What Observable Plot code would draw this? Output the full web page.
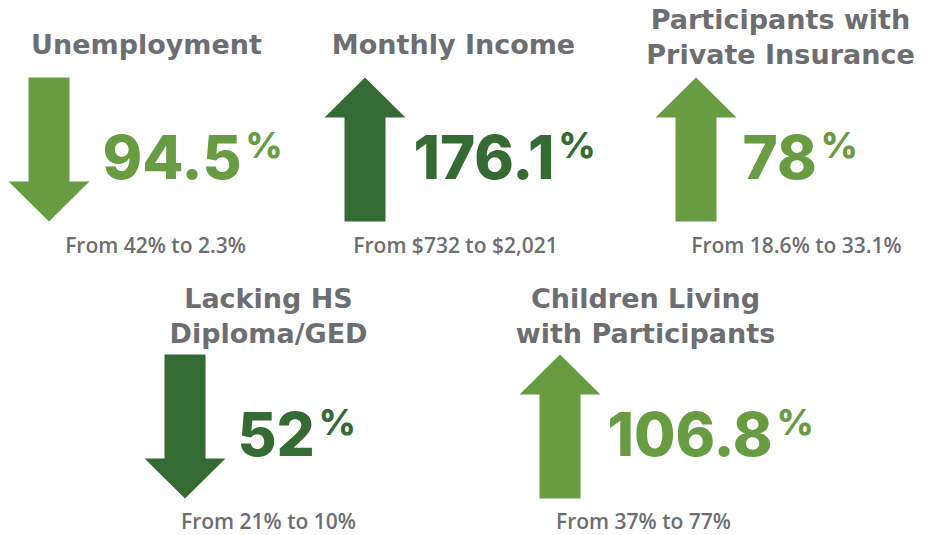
<!DOCTYPE html>
<html>
<head>
<meta charset="utf-8">
<script src="https://cdn.jsdelivr.net/npm/d3@7"></script>
<script src="https://cdn.jsdelivr.net/npm/@observablehq/plot@0.6"></script>
<style>
  html, body { margin: 0; padding: 0; background: #fff; }
</style>
</head>
<body>
<div id="chart"></div>
<script>
// ---- data ----
const titles = ["Unemployment", "Monthly Income", "Participants with\nPrivate Insurance", "Lacking HS\nDiploma/GED", "Children Living\nwith Participants"];
const changes = [94.5, 176.1, 78, 52, 106.8];
const fromValues = ["42%", "$732", "18.6%", "21%", "37%"];
const toValues = ["2.3%", "$2,021", "33.1%", "10%", "77%"];
const directions = ["down", "up", "up", "down", "up"];
const shades = ["light", "dark", "light", "dark", "light"];

// ---- layout (panel anchors) ----
const W = 934, H = 535;
const arrowLeft = [8, 324, 655, 144, 519];
const arrowTop = [77, 77, 77, 354, 354];
const numberLeft = [102, 413, 742, 237, 607];
const titleX = [146, 453, 780, 268, 645];
const titleY = [53, 53, 63, 342, 342];   // baseline of the last title line
const subX = [155, 455, 796, 268, 643];
const subY = [252, 252, 252, 528, 528];

const palette = {light: "#699c42", dark: "#356a34"};
const gray = "#6d6e71";
const font = "DejaVu Sans";
const numFont = "Inter";
const subFont = "Open Sans";

const AW = 81, AS = 41, AH = 144, AHead = 40;

function arrowPoints(i) {
  const L = arrowLeft[i], T = arrowTop[i];
  const sl = L + (AW - AS) / 2, sr = sl + AS;
  const pts = directions[i] === "down"
    ? [[sl, T], [sr, T], [sr, T + AH - AHead], [L + AW, T + AH - AHead], [L + AW / 2, T + AH], [L, T + AH - AHead], [sl, T + AH - AHead]]
    : [[L + AW / 2, T], [L + AW, T + AHead], [sr, T + AHead], [sr, T + AH], [sl, T + AH], [sl, T + AHead], [L, T + AHead]];
  return pts.map(([x, y]) => ({x, y, i}));
}

const numSize = 60, pctSize = 36;
const ctx = document.createElement("canvas").getContext("2d");
ctx.font = `800 ${numSize}px "${numFont}"`;

const panels = titles.map((t, i) => {
  const label = String(changes[i]);
  const w = ctx.measureText(label).width;
  return {
    i, label,
    title: t,
    sub: `From ${fromValues[i]} to ${toValues[i]}`,
    color: palette[shades[i]],
    nx: numberLeft[i], ny: arrowTop[i] + 101,
    px: numberLeft[i] + w + 4, py: arrowTop[i] + 80,
    tx: titleX[i], ty: titleY[i],
    sx: subX[i], sy: subY[i]
  };
});

const marks = [];
panels.forEach(p => {
  marks.push(Plot.line(arrowPoints(p.i), {x: "x", y: "y", fill: p.color, stroke: "none", curve: "linear-closed"}));
});
marks.push(
  Plot.text(panels, {x: "tx", y: "ty", text: "title", fill: gray, fontFamily: font, fontWeight: "bold", fontSize: 27, textAnchor: "middle", lineAnchor: "bottom", lineHeight: 1.27}),
  Plot.text(panels, {x: "nx", y: "ny", text: "label", fill: "color", fontFamily: numFont, fontWeight: 800, fontSize: numSize, textAnchor: "start", lineAnchor: "bottom"}),
  Plot.text(panels, {x: "px", y: "py", text: () => "%", fill: "color", fontFamily: numFont, fontWeight: 800, fontSize: pctSize, textAnchor: "start", lineAnchor: "bottom"}),
  Plot.text(panels, {x: "sx", y: "sy", text: "sub", fill: gray, fontFamily: subFont, fontWeight: 600, fontSize: 21, textAnchor: "middle", lineAnchor: "bottom"})
);

const chart = Plot.plot({
  width: W, height: H,
  margin: 0,
  x: {domain: [0, W], range: [0, W], axis: null},
  y: {domain: [0, H], range: [0, H], axis: null},
  color: {type: "identity"},
  marks
});
document.getElementById("chart").appendChild(chart);
</script>
</body>
</html>
